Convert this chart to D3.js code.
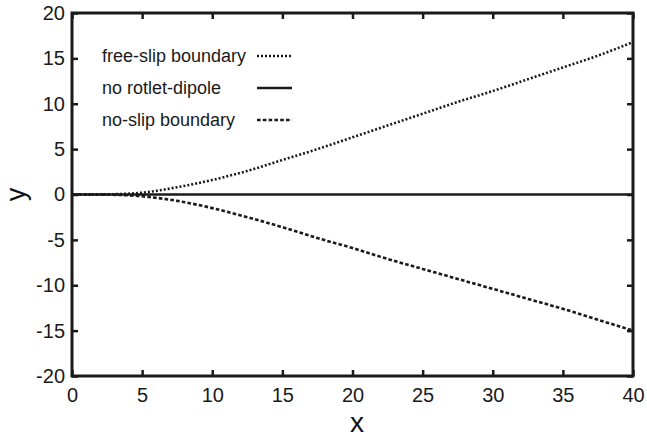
<!DOCTYPE html>
<html>
<head>
<meta charset="utf-8">
<script src="https://cdn.jsdelivr.net/npm/d3@7"></script>
<style>
  body { margin: 0; background: #fff; }
  svg { display: block; font-family: "Liberation Sans", Arial, sans-serif; }
</style>
</head>
<body>
<div id="chart"></div>
<script>
//------------------------------------------------------
// Données
//------------------------------------------------------
const xs       = [0, 2.5, 5, 7.5, 10, 12.5, 15, 17.5, 20, 22.5, 25, 27.5, 30, 32.5, 35, 37.5, 40];
const freeSlip = [0, 0.02, 0.2, 0.8, 1.6, 2.6, 3.8, 5.0, 6.3, 7.6, 8.9, 10.2, 11.4, 12.7, 14.0, 15.3, 16.8];
const noRotlet = [0, 0, 0, 0, 0, 0, 0, 0, 0, 0, 0, 0, 0, 0, 0, 0, 0];
const noSlip   = [0, -0.02, -0.2, -0.7, -1.5, -2.5, -3.6, -4.8, -5.9, -7.1, -8.2, -9.3, -10.4, -11.5, -12.6, -13.8, -15.0];

const xTicks = [0, 5, 10, 15, 20, 25, 30, 35, 40];
const yTicks = [-20, -15, -10, -5, 0, 5, 10, 15, 20];

const seriesNames = ["free-slip boundary", "no rotlet-dipole", "no-slip boundary"];
const seriesValues = [freeSlip, noRotlet, noSlip];
const seriesDash = ["2,2", null, "3.6,2.2"];

//------------------------------------------------------
// Mise en page
//------------------------------------------------------
const width = 647;
const height = 439;
const margin = { top: 13, right: 14, bottom: 63, left: 72 };
const innerW = width - margin.left - margin.right;
const innerH = height - margin.top - margin.bottom;

const x = d3.scaleLinear().domain([0, 40]).range([margin.left, margin.left + innerW]);
const y = d3.scaleLinear().domain([-20, 20]).range([margin.top + innerH, margin.top]);

// trait d'union simple, comme sur la figure
const fmt = d => String(d);

const svg = d3.select("#chart").append("svg")
  .attr("width", width)
  .attr("height", height);

// courbes
const line = d3.line()
  .x(d => x(d[0]))
  .y(d => y(d[1]))
  .curve(d3.curveMonotoneX);

seriesValues.forEach((vals, i) => {
  svg.append("path")
    .datum(xs.map((xv, k) => [xv, vals[k]]))
    .attr("fill", "none")
    .attr("stroke", "#1a1a1a")
    .attr("stroke-width", i === 1 ? 2.5 : 2.6)
    .attr("stroke-dasharray", seriesDash[i])
    .attr("d", line);
});

// axes (ticks vers l'intérieur, sur les 4 côtés)
const tickLen = 6;

svg.append("g")
  .attr("transform", `translate(0,${y(-20)})`)
  .call(d3.axisBottom(x).tickValues(xTicks).tickSize(-tickLen).tickPadding(12).tickFormat(fmt))
  .call(g => g.select(".domain").remove());

svg.append("g")
  .attr("transform", `translate(0,${y(20)})`)
  .call(d3.axisTop(x).tickValues(xTicks).tickSize(-tickLen).tickFormat(""))
  .call(g => g.select(".domain").remove());

svg.append("g")
  .attr("transform", `translate(${x(0)},0)`)
  .call(d3.axisLeft(y).tickValues(yTicks).tickSize(-tickLen).tickPadding(7).tickFormat(fmt))
  .call(g => g.select(".domain").remove());

svg.append("g")
  .attr("transform", `translate(${x(40)},0)`)
  .call(d3.axisRight(y).tickValues(yTicks).tickSize(-tickLen).tickFormat(""))
  .call(g => g.select(".domain").remove());

svg.selectAll(".tick line")
  .attr("stroke", "#1a1a1a")
  .attr("stroke-width", 2.5);

svg.selectAll(".tick text")
  .attr("fill", "#1a1a1a")
  .style("font-size", "20px")
  .style("font-family", "'Liberation Sans', Arial, sans-serif");

// cadre
svg.append("rect")
  .attr("x", x(0))
  .attr("y", y(20))
  .attr("width", x(40) - x(0))
  .attr("height", y(-20) - y(20))
  .attr("fill", "none")
  .attr("stroke", "#1a1a1a")
  .attr("stroke-width", 3);

// titres d'axes
svg.append("text")
  .attr("x", 357)
  .attr("y", 432)
  .attr("text-anchor", "middle")
  .attr("fill", "#111")
  .style("font-size", "28px")
  .text("x");

svg.append("text")
  .attr("transform", `translate(25,${y(0)}) rotate(-90)`)
  .attr("text-anchor", "middle")
  .attr("fill", "#111")
  .style("font-size", "27px")
  .text("y");

// légende
const legend = svg.append("g");
const legendY = [56, 88, 120];

seriesNames.forEach((name, i) => {
  legend.append("text")
    .attr("x", 102)
    .attr("y", legendY[i] + 6)
    .attr("fill", "#1a1a1a")
    .style("font-size", "18px")
    .text(name);

  legend.append("line")
    .attr("x1", 257)
    .attr("x2", 292)
    .attr("y1", legendY[i])
    .attr("y2", legendY[i])
    .attr("stroke", "#1a1a1a")
    .attr("stroke-width", 2.6)
    .attr("stroke-dasharray", seriesDash[i]);
});
</script>
</body>
</html>
